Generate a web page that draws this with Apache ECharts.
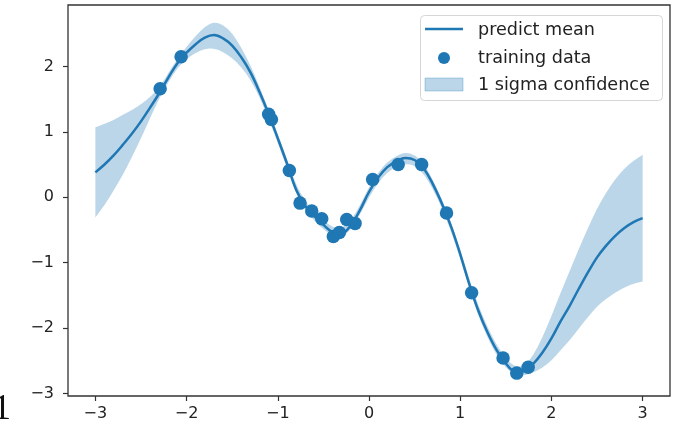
<!DOCTYPE html>
<html>
<head>
<meta charset="utf-8">
<script src="https://cdn.jsdelivr.net/npm/echarts@6/dist/echarts.min.js"></script>
<style>
  html, body { margin: 0; padding: 0; background: #ffffff; }
  #chart { width: 680px; height: 427px; }
</style>
</head>
<body>
<div id="chart"></div>
<script>
// Gaussian-process regression: predicted mean, 1-sigma band and the training samples.
const gridX = [
  -3.0, -2.9, -2.8, -2.7, -2.6, -2.5, -2.4, -2.3, -2.2, -2.1,
  -2.0, -1.9, -1.8, -1.7, -1.6, -1.5, -1.4, -1.3, -1.2, -1.1,
  -1.0, -0.9, -0.8, -0.7, -0.6, -0.5, -0.4, -0.3, -0.2, -0.1,
   0.0,  0.1,  0.2,  0.3,  0.4,  0.5,  0.6,  0.7,  0.8,  0.9,
   1.0,  1.1,  1.2,  1.3,  1.4,  1.5,  1.6,  1.7,  1.8,  1.9,
   2.0,  2.1,  2.2,  2.3,  2.4,  2.5,  2.6,  2.7,  2.8,  2.9,  3.0
];
const predictMean = [
   0.38,  0.50,  0.64,  0.80,  0.97,  1.16,  1.37,  1.59,  1.83,  2.05,
   2.21,  2.34,  2.44,  2.48,  2.43,  2.32,  2.14,  1.91,  1.61,  1.27,
   0.90,  0.52,  0.12, -0.13, -0.29, -0.42, -0.53, -0.55, -0.43, -0.20,
   0.08,  0.30,  0.46,  0.55,  0.60,  0.57,  0.44,  0.20, -0.10, -0.45,
  -0.87, -1.33, -1.74, -2.07, -2.34, -2.54, -2.66, -2.66, -2.55, -2.38,
  -2.16, -1.90, -1.66, -1.40, -1.15, -0.92, -0.74, -0.59, -0.47, -0.38, -0.32
];
const predictSigma = [
  0.69, 0.62, 0.54, 0.46, 0.36, 0.26, 0.16, 0.08, 0.07, 0.07,
  0.09, 0.13, 0.17, 0.20, 0.21, 0.19, 0.15, 0.11, 0.08, 0.07,
  0.07, 0.07, 0.07, 0.07, 0.07, 0.07, 0.07, 0.07, 0.07, 0.07,
  0.08, 0.08, 0.08, 0.08, 0.09, 0.08, 0.08, 0.07, 0.07, 0.07,
  0.07, 0.07, 0.08, 0.08, 0.08, 0.07, 0.07, 0.07, 0.13, 0.23,
  0.34, 0.44, 0.53, 0.61, 0.68, 0.75, 0.81, 0.87, 0.91, 0.94, 0.97
];
const trainX = [
  -2.29, -2.06, -1.10, -1.07, -0.873, -0.756, -0.628, -0.518, -0.391, -0.325,
  -0.244, -0.153, 0.04, 0.32, 0.577, 0.85, 1.125, 1.47, 1.62, 1.745
];
const trainY = [
   1.66,  2.15,  1.27,  1.19,  0.41, -0.09, -0.21, -0.33, -0.60, -0.54,
  -0.34, -0.40,  0.27,  0.50,  0.50, -0.24, -1.46, -2.46, -2.69, -2.60
];
const xTicks = [-3, -2, -1, 0, 1, 2, 3];
const yTicks = [-3, -2, -1, 0, 1, 2];
const legendLabels = ['predict mean', 'training data', '1 sigma confidence'];

const C0 = '#1f77b4';
const BAND = 'rgba(31,119,180,0.3)';
const FONT = 'DejaVu Sans';
const minusSign = v => String(v).replace('-', '\u2212');

const meanPts = gridX.map((x, i) => [x, predictMean[i]]);
const trainPts = trainX.map((x, i) => [x, trainY[i]]);

// Smooth path through pixel points (quadratic segments between midpoints).
function smoothPath(pts, startCmd) {
  let d = startCmd + pts[0][0] + ',' + pts[0][1];
  for (let i = 1; i < pts.length - 1; i++) {
    const mx = (pts[i][0] + pts[i + 1][0]) / 2;
    const my = (pts[i][1] + pts[i + 1][1]) / 2;
    d += ' Q' + pts[i][0] + ',' + pts[i][1] + ' ' + mx + ',' + my;
  }
  const last = pts[pts.length - 1];
  d += ' L' + last[0] + ',' + last[1];
  return d;
}

// Filled region between mean - sigma and mean + sigma.
function renderBand(params, api) {
  const upper = gridX.map((x, i) => api.coord([x, predictMean[i] + predictSigma[i]]));
  const lower = gridX.map((x, i) => api.coord([x, predictMean[i] - predictSigma[i]])).reverse();
  const d = smoothPath(upper, 'M') + ' ' + smoothPath(lower, 'L') + ' Z';
  return {
    type: 'path',
    shape: { pathData: d },
    style: { fill: BAND, stroke: null }
  };
}

const chart = echarts.init(document.getElementById('chart'), null, { renderer: 'canvas' });

const axisCommon = {
  type: 'value',
  splitLine: { show: false },
  axisLine: { show: false, onZero: false },
  axisTick: { show: true, length: 5, lineStyle: { color: '#333', width: 1.2 } },
  axisLabel: { color: '#222', fontFamily: FONT, fontSize: 16, formatter: minusSign }
};

const legendFont = '17.6px "DejaVu Sans"';

chart.setOption({
  animation: false,
  backgroundColor: '#ffffff',
  grid: {
    left: 68, right: 10, top: 5, bottom: 31,
    show: true, borderColor: '#333', borderWidth: 1.3, backgroundColor: 'transparent'
  },
  xAxis: Object.assign({}, axisCommon, {
    min: -3.3, max: 3.3,
    axisTick: Object.assign({}, axisCommon.axisTick, { customValues: xTicks }),
    axisLabel: Object.assign({}, axisCommon.axisLabel, { customValues: xTicks, margin: 10 })
  }),
  yAxis: Object.assign({}, axisCommon, {
    min: -3.04, max: 2.94,
    axisTick: Object.assign({}, axisCommon.axisTick, { customValues: yTicks }),
    axisLabel: Object.assign({}, axisCommon.axisLabel, { customValues: yTicks, margin: 14 })
  }),
  series: [
    {
      name: legendLabels[2], type: 'custom', data: [[0, 0]],
      renderItem: renderBand, silent: true, clip: true, z: 1
    },
    {
      name: legendLabels[0], type: 'line', data: meanPts,
      smooth: 0.4, symbol: 'none', silent: true, z: 2,
      lineStyle: { color: C0, width: 2.5 }
    },
    {
      name: legendLabels[1], type: 'scatter', data: trainPts,
      symbol: 'circle', symbolSize: 13.5, silent: true, z: 3,
      itemStyle: { color: C0, opacity: 1 }
    }
  ],
  graphic: [
    {
      type: 'rect', z: 100,
      shape: { x: 420.5, y: 15.5, width: 242, height: 85, r: 4 },
      style: { fill: 'rgba(255,255,255,0.85)', stroke: '#d6d6d6', lineWidth: 1 }
    },
    {
      type: 'line', z: 101,
      shape: { x1: 425, y1: 29, x2: 463, y2: 29 },
      style: { stroke: C0, lineWidth: 2.5 }
    },
    {
      type: 'circle', z: 101,
      shape: { cx: 444, cy: 58, r: 6 },
      style: { fill: C0 }
    },
    {
      type: 'rect', z: 101,
      shape: { x: 425, y: 78, width: 38, height: 13 },
      style: { fill: BAND, stroke: 'rgba(31,119,180,0.3)', lineWidth: 1 }
    },
    {
      type: 'text', z: 101, x: 478, y: 30,
      style: { text: legendLabels[0], font: legendFont, fill: '#222', verticalAlign: 'middle' }
    },
    {
      type: 'text', z: 101, x: 478, y: 58,
      style: { text: legendLabels[1], font: legendFont, fill: '#222', verticalAlign: 'middle' }
    },
    {
      type: 'text', z: 101, x: 478, y: 85,
      style: { text: legendLabels[2], font: legendFont, fill: '#222', verticalAlign: 'middle' }
    },
    {
      type: 'text', z: 101, x: -7, y: 410,
      style: { text: '1', font: '36px "Liberation Serif"', fill: '#111', verticalAlign: 'middle' }
    }
  ]
});
</script>
</body>
</html>
